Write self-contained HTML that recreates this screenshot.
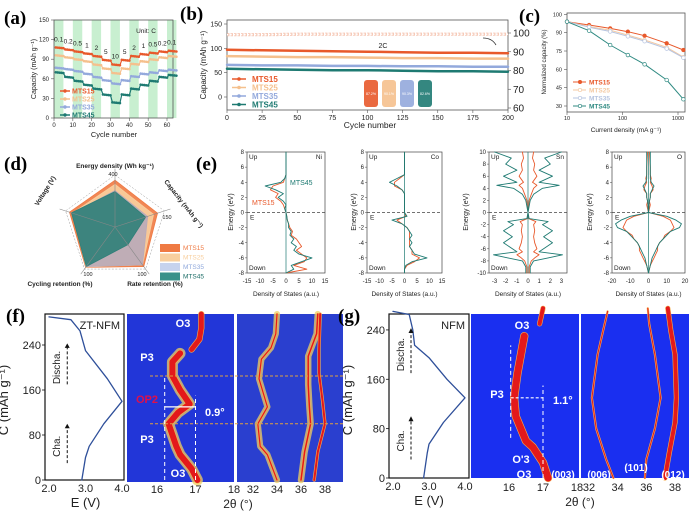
<!DOCTYPE html>
<html><head><meta charset="utf-8"><style>
html,body{margin:0;padding:0;background:#fff;}
svg{display:block;font-family:"Liberation Sans",sans-serif;}
</style></head><body>
<svg id="fig" width="700" height="516" viewBox="0 0 700 516" xmlns="http://www.w3.org/2000/svg"></svg>
<script>
// ---------- DATA ----------
const rateLabels=["0.1","0.2","0.5","1","2","5","10","5","2","1","0.5","0.2","0.1"];
const rateMTS15=[108,105,102,99,95,89,82,89,95,98,100,102,103];
const rateMTS25=[96,93,90,87,82,76,69,76,83,87,90,93,95];
const rateMTS35=[77,75,72,68,63,58,53,58,64,68,70,73,74];
const rateMTS45=[70,63,57,51,45,36,24,36,45,51,57,63,66];
const cycTicks=[0,10,20,30,40,50,60];
const capTicksA=[0,30,60,90,120,150];
const cycles=[0,25,50,75,100,125,150,175,200];
const cycMTS15=[97,96,95,94,93,92,91,91,90];
const cycMTS25=[84,83,82,82,81,80,80,79,79];
const cycMTS35=[66,65,65,64,64,63,63,62,62];
const cycMTS45=[58,57,56,55,55,54,53,53,52];
const cycEff=[128,128,129,129,129,129,129,129,129];
const bTicksX=[0,25,50,75,100,125,150,175,200];
const bTicksY=[0,50,100,150];
const bTicksR=[60,70,80,90,100];
const bottleLabels=["87.2%","90.1%","90.3%","82.6%"];
const currents=[10,25,60,125,250,625,1250];
const normMTS15=[99,96.3,93.5,90.8,87.5,81.3,75.8];
const normMTS25=[99,95,92,88,84,78,70];
const normMTS35=[99,94.5,91,87,83,77,69.5];
const normMTS45=[99,91.6,79.9,71.7,64.1,51.3,35.5];
const cTicksY=[105,90,75,60,45,30];
const cTicksX=[10,100,1000];
const radarAxes=["Energy density (Wh kg⁻¹)","Capacity (mAh g⁻¹)","Rate retention (%)","Cycling retention (%)","Voltage (V)"];
const radMTS15=[0.9,0.86,0.94,0.96,0.92];
const radMTS25=[0.82,0.78,0.9,0.95,0.86];
const radMTS35=[0.7,0.66,0.9,0.94,0.86];
const radMTS45=[0.68,0.62,0.42,0.94,0.88];
const dosE=[8,6,5,4.5,4,3.5,3,2.5,2,1.5,1,0.5,0,-0.5,-1,-1.5,-2,-2.5,-3,-3.5,-4,-4.5,-5,-5.5,-6,-6.5,-7,-7.5,-8];
const niMTS45=[0,0,0,-0.5,-2,-8,-4,-1,-3,-1,0,-0.5,0,0.3,0.5,1,1,2,1.5,3,2,4,3,5,10,6,2,3,0];
const niMTS15=[0,0,0,-0.5,-1,-5,-6,-3,-4,-2,-1,-0.5,0,0.3,0.5,1,1.5,2.5,2,4,5,6,4,6,8,7,3,8,0];
const coMTS45=[0,0,0,-3,-6,-3,-1,0,0,0,0,0,0,1,-5,-1,1,2,3,2,3,2,3,4,9,3,0.5,0,0];
const coMTS15=[0,0,0,-2,-4,-4,-1,0,0,0,0,0,0,0.5,-3,-1,1,2,2,2,2,2,3,3,6,4,1,0,0];
const snE=[10,9,8,7,6,5,4.5,4,3,2,1,0,-1,-1.5,-2,-3,-4,-5,-6,-6.5,-7,-7.5,-8,-9,-10];
const snMTS45=[3,1.5,2,1,2.2,1,2.8,1.3,0.5,0.2,0.1,0,0.1,1.8,1.3,2.2,1.4,2.2,1.4,1,3.1,1.8,0.5,0.2,0.2];
const snMTS15=[0.5,0.4,0.6,0.5,0.8,0.4,0.8,0.5,0.3,0.1,0.05,0,0.05,0.7,0.5,0.6,0.5,0.6,0.8,0.5,1,0.6,0.3,0.1,0.1];
const oMTS45=[1,1,1,1,1.5,3,2,1,1,0.5,0.3,0.2,0,10,15,18,17,12,10,8,6,5,4,3,2,1.5,1,0.5,0];
const oMTS15=[0.5,1,1,1.5,1,2,2.5,1,1,0.5,1,0.5,0,8,12,13,14,12,9,8,6,5,5,4,3,2,1,0.5,0];
const fVolt=[2.9,3.0,3.1,3.5,4.0,3.6,3.0,2.85,2.6,2.0];
const fCap=[0,40,60,100,140,180,230,265,285,290];
const gVolt=[2.85,2.95,3.0,3.4,4.0,3.5,3.0,2.6,2.55,2.45,2.0];
const gCap=[0,40,55,90,130,160,195,215,240,265,270];
const f003Theta=[17.05,16.9,16.6,16.5,16.3,16.55,16.85,16.6,16.4,16.4,16.6];
const f003Cap=[0,20,45,60,100,120,135,160,185,210,225];
const f003TopTheta=[16.9,17.1,17.15,17.15];
const f003TopCap=[232,250,270,295];
const fP1Theta=[34,33.2,32.6,32.4,33.2,32.5,32.7,33.5,33.9,34];
const fP1Cap=[0,45,60,100,130,180,215,235,260,295];
const fP2Theta=[36,36.3,36.8,36.7,36.6,36.6,37.3,37.4];
const fP2Cap=[0,50,100,130,170,220,260,295];
const fP3Theta=[37.1,37.4,38,37.8,37.5,37.5,37.6];
const fP3Cap=[0,50,100,140,190,230,295];
const g003Theta=[17.15,17.0,16.7,16.5,16.2,16.15,16.25,16.45];
const g003Cap=[0,25,50,60,100,130,170,230];
const g003TopTheta=[16.9,17.0];
const g003TopCap=[250,275];
const g006Theta=[33.7,33.2,32.5,32.2,32.6,33.0,33.3];
const g006Cap=[0,30,80,130,200,240,270];
const g101Theta=[35.9,36.0,36.6,37.0,36.6,36.2,36.1];
const g101Cap=[0,30,80,130,200,250,275];
const g012Theta=[37.3,37.6,38.0,38.1,38.0,37.7,37.5];
const g012Cap=[0,40,90,130,200,240,275];
const ecTicksC=[0,80,160,240];
const ecTicksE=["2.0","3.0","4.0"];
const thTicks1=[16,17,18];
const thTicks2=[32,34,36,38];

// ---------- HELPERS ----------
const NS="http://www.w3.org/2000/svg";
const svg=document.getElementById('fig');
function el(tag,attrs,name,parent){
  const e=document.createElementNS(NS,tag);
  for(const k in attrs) e.setAttribute(k,attrs[k]);
  
  
  (parent||svg).appendChild(e);
  return e;
}
function t(x,y,s,size,name,o){
  o=o||{};
  const a={x:x,y:y,'font-size':size,fill:o.fill||'#222','text-anchor':o.anchor||'middle'};
  if(o.weight) a['font-weight']=o.weight;
  if(o.family) a['font-family']=o.family;
  if(o.rot!==undefined) a.transform='rotate('+o.rot+' '+x+' '+y+')';
  const e=el('text',a,name);
  e.textContent=s;
  return e;
}
function ln(x1,y1,x2,y2,c,w,name,dash){
  const a={x1:x1,y1:y1,x2:x2,y2:y2,stroke:c,'stroke-width':w};
  if(dash) a['stroke-dasharray']=dash;
  return el('line',a,name);
}
function pl(pts,c,w,name,extra){
  const a={points:pts.map(p=>p[0].toFixed(1)+','+p[1].toFixed(1)).join(' '),fill:'none',stroke:c,'stroke-width':w,'stroke-linejoin':'round','stroke-linecap':'round'};
  for(const k in (extra||{})) a[k]=extra[k];
  return el('polyline',a,name);
}
function label(x,y,s,name){t(x,y,s,19,name,{weight:'bold',family:'"Liberation Serif",serif',anchor:'start',fill:'#000'});}
const C15='#e8592b',C25='#f5c08d',C35='#93a9dc',C45='#1e7a72';

// ---------- (a) rate ----------
label(4,24,'(a)','label-a');
const xa=c=>54+c*(113/60), ya=v=>118-v*(98/150);
for(let i=0;i<13;i+=2){
  el('rect',{x:xa(i*5),y:20,width:xa(Math.min(i*5+5,65))-xa(i*5),height:98,fill:'#c8efd0'},'rate-stripe');
}
el('rect',{x:54,y:20,width:119,height:98,fill:'none',stroke:'#555','stroke-width':0.8},'plot-frame-a');
capTicksA.forEach(v=>{ln(51,ya(v),54,ya(v),'#555',0.6,'y-tick-a');t(49,ya(v)+2,String(v),6,'y-tick-label-a',{anchor:'end'});});
cycTicks.forEach(c=>{ln(xa(c),118,xa(c),121,'#555',0.6,'x-tick-a');t(xa(c),127,String(c),6,'x-tick-label-a');});
t(36,69,'Capacity (mAh g⁻¹)',7,'y-axis-title-a',{rot:-90});
t(114,137,'Cycle number',7.5,'x-axis-title-a');
t(146,33,'Unit: C',6.5,'unit-label');
[[rateMTS15,C15,'MTS15'],[rateMTS25,C25,'MTS25'],[rateMTS35,C35,'MTS35'],[rateMTS45,C45,'MTS45']].forEach(([arr,col,nm],si)=>{
  const pts=[];
  arr.forEach((v,i)=>{for(let k=1;k<=5;k++) pts.push([xa(i*5+k),ya(v-(k-1)*0.3)]);});
  pl(pts,col,1.2,'rate-line-'+nm.toLowerCase());
  pts.forEach(p=>el('circle',{cx:p[0],cy:p[1],r:1.3,fill:col},'rate-point-'+nm.toLowerCase()));
  const ly=91+si*8;
  ln(60,ly,70,ly,col,1.5,'legend-line-a');
  el('circle',{cx:65,cy:ly,r:1.7,fill:col},'legend-marker-a');
  t(72,ly+2.5,nm,7,'legend-entry-a',{anchor:'start',fill:col,weight:'bold'});
});
rateLabels.forEach((s,i)=>t(xa(i*5+2.5),ya(rateMTS15[i])-6,s,6.5,'rate-label'));

// ---------- (b) cycling ----------
label(180,20,'(b)','label-b');
const xb=c=>227+c*(281/200), yb=v=>97-v*(73/150), yr=p=>108-(p-60)*(75/40);
el('rect',{x:227,y:20,width:281,height:90,fill:'none',stroke:'#555','stroke-width':0.8},'plot-frame-b');
bTicksY.forEach(v=>{ln(224,yb(v),227,yb(v),'#555',0.6,'y-tick-b');t(222,yb(v)+2.5,String(v),7,'y-tick-label-b',{anchor:'end'});});
bTicksX.forEach(c=>{ln(xb(c),110,xb(c),113,'#555',0.6,'x-tick-b');t(xb(c),120,String(c),7,'x-tick-label-b');});
bTicksR.forEach(p=>{ln(508,yr(p),511,yr(p),'#555',0.6,'right-tick-b');t(513,yr(p)+3.5,String(p),10,'right-tick-label-b',{anchor:'start'});});
t(206,65,'Capacity (mAh g⁻¹)',8,'y-axis-title-b',{rot:-90});
t(370,128,'Cycle number',8.5,'x-axis-title-b');
t(383,48,'2C',7,'rate-note-b');
el('path',{d:'M483,38 Q492,38 496,45',fill:'none',stroke:'#333','stroke-width':0.8},'arrow-b');
pl(cycles.map((c,i)=>[xb(c),yb(cycEff[i])]),'#f2b39a',3.2,'efficiency-line',{'stroke-dasharray':'2.5,1','stroke-linecap':'butt',opacity:0.7});
pl(cycles.map((c,i)=>[xb(c),yb(cycEff[i])]),'#fff',1.4,'efficiency-hollow',{'stroke-dasharray':'1.2,2.3','stroke-linecap':'butt'});
[[cycMTS15,C15,'MTS15'],[cycMTS25,C25,'MTS25'],[cycMTS35,C35,'MTS35'],[cycMTS45,C45,'MTS45']].forEach(([arr,col,nm],si)=>{
  pl(cycles.map((c,i)=>[xb(c),yb(arr[i])]),col,2.5,'cycle-line-'+nm.toLowerCase());
  const ly=79+si*8.5;
  ln(232,ly,246,ly,col,1.5,'legend-line-b');
  el('circle',{cx:239,cy:ly,r:1.8,fill:col},'legend-marker-b');
  t(252,ly+3,nm,8,'legend-entry-b',{anchor:'start',fill:col,weight:'bold'});
});
[C15,C25,C35,C45].forEach((col,i)=>{
  el('rect',{x:364+i*18,y:80,width:14,height:27,rx:3,fill:col,opacity:0.9},'inset-bottle');
  t(371+i*18,95,bottleLabels[i],3.5,'inset-bottle-label',{fill:'#fff'});
});

// ---------- (c) normalized ----------
label(519,22,'(c)','label-c');
const xc=d=>567+(Math.log10(d)-1)*55.5, yc=p=>106-(p-30)*1.222;
el('rect',{x:567,y:13,width:118,height:99,fill:'none',stroke:'#555','stroke-width':0.8},'plot-frame-c');
cTicksY.forEach(v=>{ln(564,yc(v),567,yc(v),'#555',0.6,'y-tick-c');t(562,yc(v)+2,v===105?'100':String(v),5.5,'y-tick-label-c',{anchor:'end'});});
cTicksX.forEach(d=>{ln(xc(d),112,xc(d),115,'#555',0.6,'x-tick-c');t(xc(d),120,String(d),5.5,'x-tick-label-c');});
t(546,62,'Normalized capacity (%)',6,'y-axis-title-c',{rot:-90});
t(626,132,'Current density (mA g⁻¹)',6.5,'x-axis-title-c');
[[normMTS15,C15,'MTS15',true],[normMTS25,'#f3c9a3','MTS25',false],[normMTS35,'#b6c4e0','MTS35',false],[normMTS45,'#2f8a82','MTS45',false]].forEach(([arr,col,nm,solid],si)=>{
  const pts=currents.map((d,i)=>[xc(d),yc(arr[i])]);
  pl(pts,col,1,'norm-line-'+nm.toLowerCase());
  pts.forEach(p=>el('circle',{cx:p[0],cy:p[1],r:1.8,fill:solid?col:'#fff',stroke:col,'stroke-width':0.7},'norm-point-'+nm.toLowerCase()));
  const ly=82+si*8;
  ln(573,ly,586,ly,col,1,'legend-line-c');
  el('circle',{cx:580,cy:ly,r:1.7,fill:solid?col:'#fff',stroke:col,'stroke-width':0.7},'legend-marker-c');
  t(589,ly+2.5,nm,6.5,'legend-entry-c',{anchor:'start',fill:col,weight:'bold'});
});

// ---------- (d) radar ----------
label(4,170,'(d)','label-d');
const rcx=115, rcy=227, R=52;
const ang=i=>(-90+72*i)*Math.PI/180;
const rp=(i,f)=>[rcx+R*f*Math.cos(ang(i)),rcy+R*f*Math.sin(ang(i))];
[1/3,2/3,1].forEach(f=>el('polygon',{points:[0,1,2,3,4].map(i=>rp(i,f).join(',')).join(' '),fill:'none',stroke:'#999','stroke-width':0.5,'stroke-dasharray':'2,1.5'},'radar-grid'));
[[radMTS15,'#ef7a43','MTS15'],[radMTS25,'#f8cf9e','MTS25'],[radMTS35,'#b8aab9','MTS35'],[radMTS45,'#2f7f78','MTS45']].forEach(([arr,col,nm])=>{
  el('polygon',{points:arr.map((v,i)=>rp(i,v).join(',')).join(' '),fill:col,'fill-opacity':0.9,stroke:col,'stroke-width':0.8},'radar-area-'+nm.toLowerCase());
});
[0,1,2,3,4].forEach(i=>{const p=rp(i,1.12);ln(rcx,rcy,p[0],p[1],'#888',0.6,'radar-axis');});
t(115,168,radarAxes[0],6.5,'radar-label-energy',{weight:'bold'});
t(182,205,radarAxes[1],6.5,'radar-label-capacity',{weight:'bold',rot:52});
t(155,286,radarAxes[2],6.5,'radar-label-rate',{weight:'bold'});
t(60,286,radarAxes[3],6.5,'radar-label-cycling',{weight:'bold'});
t(47,192,radarAxes[4],6.5,'radar-label-voltage',{weight:'bold',rot:-58});
t(113,176,'400',5.5,'radar-tick');t(167,219,'150',5.5,'radar-tick');t(142,276,'100',5.5,'radar-tick');t(88,276,'100',5.5,'radar-tick');
[['#ef7a43','MTS15'],['#f8cf9e','MTS25'],['#c7d3ee','MTS35'],['#3a918a','MTS45']].forEach(([col,nm],i)=>{
  el('rect',{x:160,y:244+i*9.5,width:20,height:8,fill:col},'legend-swatch-d');
  t(183,250+i*9.5,nm,6.5,'legend-entry-d',{anchor:'start',fill:i===3?'#1e6e68':(i===2?'#8fa8dc':col)});
});

// ---------- (e) DOS ----------
label(196,170,'(e)','label-e');
function dos(x0,x1,xmax,Es,ymax,ticksX,s45,s15,elName,sym,yTitleX){
  const y0=152,y1=273;
  const xs=v=>(x0+x1)/2+v*((x1-x0)/2)/xmax, ys=e=>(y0+y1)/2-e*((y1-y0)/2)/ymax;
  el('rect',{x:x0,y:y0,width:x1-x0,height:y1-y0,fill:'#fff',stroke:'#444','stroke-width':0.7},'dos-frame-'+elName);
  ln(x0,ys(0),x1,ys(0),'#444',0.7,'fermi-line-'+elName,'3,2');
  const yt=[];for(let e=-ymax;e<=ymax;e+=2) yt.push(e);
  yt.forEach(e=>{ln(x0-2,ys(e),x0,ys(e),'#444',0.5,'dos-y-tick');t(x0-3,ys(e)+2,String(e),6,'dos-y-tick-label',{anchor:'end'});});
  ticksX.forEach(v=>t(xs(v),283,String(v),6,'dos-x-tick-label'));
  t(yTitleX,212,'Energy (eV)',7,'dos-y-title',{rot:-90});
  t((x0+x1)/2,296,'Density of States (a.u.)',6.5,'dos-x-title');
  [[s15,C15],[s45,C45]].forEach(([arr,col])=>{
    pl(Es.map((e,i)=>[xs(arr[i]),ys(e)]),col,0.9,'dos-curve-'+elName);
    if(sym) pl(Es.map((e,i)=>[xs(-arr[i]),ys(e)]),col,0.9,'dos-curve-mirror-'+elName);
  });
  ln(xs(0),y0,xs(0),y1,C45,0.7,'dos-zero-'+elName);
  t(x0+2,y0+7,'Up',6.5,'dos-up-label',{anchor:'start'});
  t(x0+2,y1-3,'Down',6.5,'dos-down-label',{anchor:'start'});
  t(x1-3,y0+7,elName,6.5,'dos-element-label',{anchor:'end'});
  t(x0+3,ys(0)+7,'E',6.5,'fermi-label',{anchor:'start'});
}
dos(247,325,15,dosE,8,[-15,-10,-5,0,5,10,15],niMTS45,niMTS15,'Ni',false,233);
dos(367,442,15,dosE,8,[-15,-10,-5,0,5,10,15],coMTS45,coMTS15,'Co',false,356);
dos(489,567,3.5,snE,10,[-3,-2,-1,0,1,2,3],snMTS45,snMTS15,'Sn',true,468);
dos(612,685,20,dosE,8,[-20,-10,0,10,20],oMTS45,oMTS15,'O',true,592);
t(290,185,'MTS45',7,'annotation-mts45',{anchor:'start',fill:C45});
t(252,205,'MTS15',7,'annotation-mts15',{anchor:'start',fill:C15});

// ---------- (f)/(g) ----------
function ecPlot(x0,x1,y0,y1,e2x,capY,volt,cap,nm,tag){
  el('rect',{x:x0,y:y0,width:x1-x0,height:y1-y0,fill:'#fff',stroke:'#111','stroke-width':1.2},'ec-frame-'+tag);
  ecTicksC.forEach(c=>{ln(x0-3,capY(c),x0,capY(c),'#111',0.8,'ec-y-tick');t(x0-4,capY(c)+4,String(c),11,'ec-y-tick-label',{anchor:'end'});});
  ecTicksE.forEach(s=>t(e2x(parseFloat(s)),y1+12,s,11,'ec-x-tick-label'));
  t(e2x(3.0),y1+27,'E (V)',13,'ec-x-title');
  pl(volt.map((v,i)=>[e2x(v),capY(cap[i])]),'#2e4f9a',1.3,'ec-curve-'+tag);
  ln(e2x(2.5),capY(30),e2x(2.5),capY(95),'#111',1,'cha-arrow','3,2');
  ln(e2x(2.5),capY(170),e2x(2.5),capY(240),'#111',1,'discha-arrow','3,2');
  el('polygon',{points:[[e2x(2.5)-2.5,capY(92)],[e2x(2.5)+2.5,capY(92)],[e2x(2.5),capY(100)]].join(' '),fill:'#111'},'cha-arrowhead');
  el('polygon',{points:[[e2x(2.5)-2.5,capY(235)],[e2x(2.5)+2.5,capY(235)],[e2x(2.5),capY(243)]].join(' '),fill:'#111'},'discha-arrowhead');
  t(e2x(2.3),capY(60),'Cha.',10,'cha-label',{rot:-90});
  t(e2x(2.3),capY(200),'Discha.',10,'discha-label',{rot:-90});
  t(x1-4,y0+15,nm,11,'sample-label',{anchor:'end'});
}
function heat(x0,x1,y0,y1,col,name){el('rect',{x:x0,y:y0,width:x1-x0,height:y1-y0,fill:col},name);}
function peak(th,cap,tx,cy,w,glow,tag){
  const pts=th.map((v,i)=>[tx(v),cy(cap[i])]);
  if(glow) pl(pts,'#f0d060',w+5,'peak-glow-'+tag,{opacity:0.75});
  pl(pts,'#f7b050',w+1.2,'peak-edge-'+tag);
  pl(pts,'#e3191b',w,'peak-'+tag);
}
// (f)
label(6,322,'(f)','label-f');
const fE=v=>49+(v-2)*36.5, fC=c=>480-c*0.5625;
ecPlot(45,124,314,480,fE,fC,fVolt,fCap,'ZT-NFM','f');
t(8,400,'C (mAh g⁻¹)',13,'ec-y-title-f',{rot:-90});
heat(127,234,314,482,'#2236d8','heatmap-f-003');
heat(237,343,314,482,'#2a3fcf','heatmap-f-high');
const f1=v=>157+(v-16)*38.5, f2=v=>253+(v-32)*12;
peak(f003Theta,f003Cap,f1,fC,6,true,'f003');
peak(f003TopTheta,f003TopCap,f1,fC,5,false,'f003-top');
peak(fP1Theta,fP1Cap,f2,fC,1.2,true,'f-p1');
peak(fP2Theta,fP2Cap,f2,fC,1.5,true,'f-p2');
peak(fP3Theta,fP3Cap,f2,fC,2,false,'f-p3');
ln(150,fC(185),343,fC(185),'#e0a040',1,'dashed-guide-f','3,2');
ln(150,fC(100),343,fC(100),'#e0a040',1,'dashed-guide-f','3,2');
ln(f1(16.2),fC(0),f1(16.2),fC(185),'#fff',1,'vertical-guide-f','4,3');
ln(f1(17),fC(0),f1(17),fC(150),'#fff',1,'vertical-guide-f','4,3');
ln(f1(16.2),fC(130),f1(17),fC(130),'#fff',1.2,'shift-arrow-f');
t(205,416,'0.9°',11,'shift-label-f',{anchor:'start',fill:'#fff',weight:'bold'});
t(147,403,'OP2',11,'phase-op2',{fill:'#e0104a',weight:'bold'});
t(147,361,'P3',11,'phase-p3',{fill:'#fff',weight:'bold'});
t(147,443,'P3',11,'phase-p3',{fill:'#fff',weight:'bold'});
t(183,327,'O3',11,'phase-o3',{fill:'#fff',weight:'bold'});
t(178,477,'O3',11,'phase-o3',{fill:'#fff',weight:'bold'});
thTicks1.forEach(v=>t(f1(v),493,String(v),11,'theta-tick-label'));
thTicks2.forEach(v=>t(f2(v),493,String(v),11,'theta-tick-label'));
t(238,508,'2θ (°)',12,'theta-title-f');
// (g)
label(338,322,'(g)','label-g');
const gE=v=>393+(v-2)*36, gC=c=>478-c*0.617;
ecPlot(389,469,314,478,gE,gC,gVolt,gCap,'NFM','g');
t(352,400,'C (mAh g⁻¹)',13,'ec-y-title-g',{rot:-90});
heat(471,579,314,478,'#1a2ff0','heatmap-g-003');
heat(581,689,314,478,'#1a2ff0','heatmap-g-high');
const g1=v=>509+(v-16)*34, g2=v=>589+(v-32)*14.33;
peak(g003Theta,g003Cap,g1,gC,7,false,'g003');
peak(g003TopTheta,g003TopCap,g1,gC,4,false,'g003-top');
peak(g006Theta,g006Cap,g2,gC,1,false,'g006');
peak(g101Theta,g101Cap,g2,gC,1,false,'g101');
peak(g012Theta,g012Cap,g2,gC,4,false,'g012');
ln(g1(16.05),gC(65),g1(16.05),gC(215),'#fff',1,'vertical-guide-g','4,3');
ln(g1(17),gC(0),g1(17),gC(150),'#fff',1,'vertical-guide-g','4,3');
ln(g1(16.05),gC(130),g1(17),gC(130),'#fff',1.2,'shift-arrow-g','3,2');
t(553,404,'1.1°',11,'shift-label-g',{anchor:'start',fill:'#fff',weight:'bold'});
t(497,398,'P3',11,'phase-p3',{fill:'#fff',weight:'bold'});
t(522,329,'O3',11,'phase-o3',{fill:'#fff',weight:'bold'});
t(521,463,'O\'3',11,'phase-o3-prime',{fill:'#fff',weight:'bold'});
t(524,478,'O3',11,'phase-o3',{fill:'#fff',weight:'bold'});
t(563,478,'(003)',10,'hkl-003',{fill:'#fff',weight:'bold'});
t(599,478,'(006)',10,'hkl-006',{fill:'#fff',weight:'bold'});
t(636,471,'(101)',10,'hkl-101',{fill:'#fff',weight:'bold'});
t(673,478,'(012)',10,'hkl-012',{fill:'#fff',weight:'bold'});
thTicks1.forEach(v=>t(g1(v),491,String(v),11,'theta-tick-label'));
thTicks2.forEach(v=>t(g2(v),491,String(v),11,'theta-tick-label'));
t(580,506,'2θ (°)',12,'theta-title-g');
</script>
</body></html>
